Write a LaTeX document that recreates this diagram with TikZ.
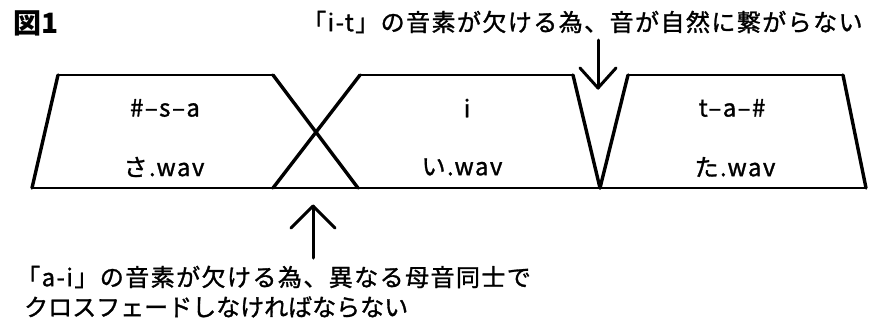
\documentclass[tikz,border=0pt]{standalone}
\usepackage{fontspec}
\setmainfont{Noto Sans CJK JP}
\newfontfamily\jp[LetterSpace=6,FakeBold=1.2]{Noto Sans CJK JP}
\newfontfamily\jpn[LetterSpace=0,FakeBold=1.2]{Noto Sans CJK JP}
\begin{document}
\begin{tikzpicture}[x=1pt,y=-1pt,
  flat/.style={line width=2.4pt},
  slant/.style={line width=3.4pt, line cap=round},
  lbl/.style={inner sep=0pt, font=\jp\fontsize{24}{28}\selectfont},
  lbln/.style={inner sep=0pt, font=\jpn\fontsize{24}{28}\selectfont},
  boxtxt/.style={inner sep=0pt, font=\jp\fontsize{24}{28}\selectfont},
  arr/.style={line width=3pt, line cap=round, line join=round}]
\useasboundingbox (0,0) rectangle (870,322);
\fill[white] (0,0) rectangle (870,322);
% key points
\coordinate (a1) at (58,75);  \coordinate (b1) at (32,188);
\coordinate (a2) at (273,75); \coordinate (b2) at (358,188);
\coordinate (a3) at (360,75); \coordinate (b3) at (273,188);
\coordinate (a4) at (573,75); \coordinate (b4) at (600,188);
\coordinate (a5) at (628,75);
\coordinate (a6) at (843,75); \coordinate (b6) at (866,188);
% horizontals
\draw[flat] (a1) -- (a2);
\draw[flat] (a3) -- (a4);
\draw[flat] (a5) -- (a6);
\draw[flat] (b1) -- (b6);
% slanted edges
\draw[slant] (a1) -- (b1);
\draw[slant] (a2) -- (b2);
\draw[slant] (a3) -- (b3);
\draw[slant] (a4) -- (b4);
\draw[slant] (a5) -- (b4);
\draw[slant] (a6) -- (b6);
% box texts
\node[boxtxt] (p1) at (165,108) {\#–s–a};
\node[boxtxt] (w1) at (164,167) {さ.wav};
\node[boxtxt] (p2) at (467,108) {i};
\node[boxtxt] (w2) at (462,167) {い.wav};
\node[boxtxt] (p3) at (732,108) {t–a–\#};
\node[boxtxt] (w3) at (735,167) {た.wav};
% title
\node[inner sep=0pt, anchor=west, font=\bfseries\fontsize{28}{32}\selectfont] (fig) at (13,23) {図1};
% top label and arrow
\node[lbl, anchor=west] (top) at (302,22) {「i-t」の音素が欠ける為、音が自然に繋がらない};
\coordinate (d0) at (598,40); \coordinate (d1) at (598,88);
\draw[arr] (d0) -- (d1);
\draw[arr] (580,68) -- (d1) -- (616,68);
% bottom label and arrow
\coordinate (u0) at (313,258); \coordinate (u1) at (313,206);
\draw[arr] (u0) -- (u1);
\draw[arr] (291,228) -- (u1) -- (335,228);
\node[lbl, anchor=west] (bot1) at (16,277) {「a-i」の音素が欠ける為、異なる母音同士で};
\node[lbln, anchor=west] (bot2) at (24,307) {クロスフェードしなければならない};
\end{tikzpicture}
\end{document}
